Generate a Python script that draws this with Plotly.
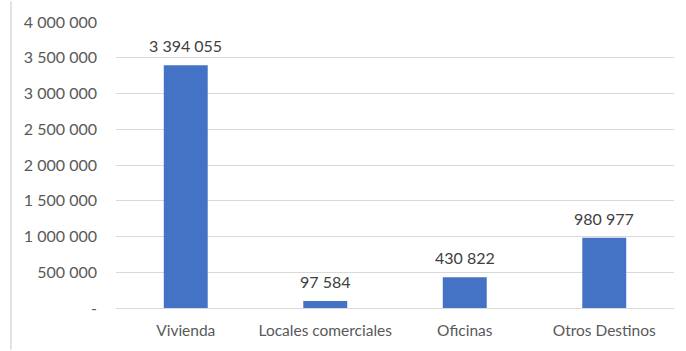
import plotly.graph_objects as go

categories = ["Vivienda", "Locales comerciales", "Oficinas", "Otros Destinos"]
values = [3394055, 97584, 430822, 980977]
tick_vals = [0, 500000, 1000000, 1500000, 2000000, 2500000, 3000000, 3500000, 4000000]
tick_text = ["-", "500 000", "1 000 000", "1 500 000", "2 000 000", "2 500 000", "3 000 000", "3 500 000", "4 000 000"]

def fmt(v):
    return f"{v:,}".replace(",", " ")

W, H = 686, 351
L, R, T, B = 116, 12, 21, 42

fig = go.Figure(go.Bar(
    x=categories, y=values,
    marker=dict(color="#4472C4", line=dict(width=0)),
))

for c, v in zip(categories, values):
    fig.add_annotation(x=c, y=v, text=fmt(v), showarrow=False,
                       yanchor="bottom", yshift=8,
                       font=dict(family="Lato", size=16, color="#404040"))

fig.update_layout(
    width=W, height=H,
    margin=dict(l=L, r=R, t=T, b=B),
    paper_bgcolor="white", plot_bgcolor="white",
    bargap=0.685,
    showlegend=False,
    font=dict(family="Lato", size=16, color="#595959"),
    xaxis=dict(showgrid=False, showline=False, ticks="", ticklabelstandoff=11,
               tickfont=dict(size=15.5, color="#595959")),
    yaxis=dict(range=[0, 4000000], tickvals=tick_vals, ticktext=tick_text,
               showgrid=True, gridcolor="#D9D9D9", gridwidth=1,
               zeroline=True, zerolinecolor="#D9D9D9", zerolinewidth=1,
               showline=False, ticks="", ticklabelstandoff=18,
               tickfont=dict(size=16, color="#595959")),
    shapes=[dict(type="line", xref="paper", yref="paper",
                 x0=(11 - L) / (W - L - R), x1=(11 - L) / (W - L - R),
                 y0=-(B) / (H - T - B), y1=1 + T / (H - T - B),
                 line=dict(color="#D9D9D9", width=1.5))],
)

fig.write_html("out.html")
